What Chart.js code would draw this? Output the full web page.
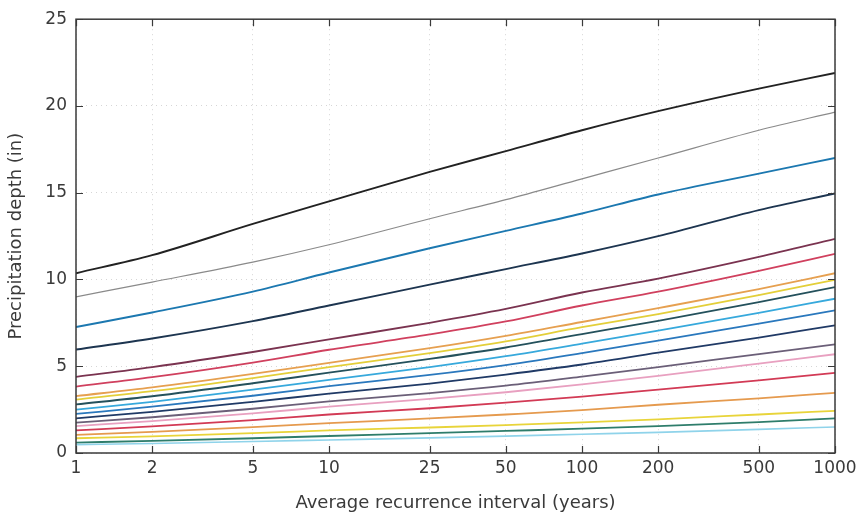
<!DOCTYPE html>
<html>
<head>
<meta charset="utf-8">
<script src="https://cdn.jsdelivr.net/npm/chart.js@4/dist/chart.umd.min.js"></script>
<style>
  html, body { margin: 0; padding: 0; background: #fff; }
  #wrap { width: 857px; height: 520px; position: relative; }
</style>
</head>
<body>
<div id="wrap"><canvas id="pfChart"></canvas></div>
<script>
// Average recurrence intervals (years) - also the x tick labels
const aris = [1, 2, 5, 10, 25, 50, 100, 200, 500, 1000];
const yTicks = [0, 5, 10, 15, 20, 25];

// Precipitation depth (in) per duration
const d5min  = [0.48, 0.55, 0.66, 0.75, 0.87, 0.97, 1.08, 1.19, 1.36, 1.50];
const d10min = [0.60, 0.70, 0.85, 0.98, 1.14, 1.27, 1.40, 1.55, 1.78, 1.99];
const d15min = [0.85, 0.96, 1.14, 1.30, 1.47, 1.61, 1.76, 1.94, 2.22, 2.43];
const d30min = [1.05, 1.22, 1.49, 1.72, 1.99, 2.22, 2.47, 2.78, 3.15, 3.47];
const d60min = [1.30, 1.53, 1.90, 2.22, 2.58, 2.90, 3.25, 3.65, 4.18, 4.62];
const d2hr   = [1.55, 1.84, 2.28, 2.67, 3.12, 3.50, 3.95, 4.45, 5.15, 5.69];
const d3hr   = [1.75, 2.06, 2.55, 2.97, 3.45, 3.88, 4.40, 4.95, 5.70, 6.26];
const d6hr   = [2.00, 2.37, 2.95, 3.42, 4.00, 4.52, 5.10, 5.78, 6.65, 7.36];
const d12hr  = [2.25, 2.67, 3.30, 3.85, 4.50, 5.07, 5.75, 6.48, 7.45, 8.22];
const d24hr  = [2.50, 2.95, 3.65, 4.22, 4.95, 5.58, 6.30, 7.05, 8.08, 8.89];
const d2day  = [2.80, 3.27, 4.02, 4.63, 5.42, 6.08, 6.85, 7.62, 8.70, 9.56];
const d3day  = [3.08, 3.56, 4.32, 4.95, 5.75, 6.43, 7.25, 8.00, 9.10, 9.98];
const d4day  = [3.28, 3.78, 4.56, 5.20, 6.04, 6.75, 7.55, 8.35, 9.45, 10.36];
const d7day  = [3.83, 4.37, 5.21, 5.95, 6.83, 7.58, 8.50, 9.30, 10.50, 11.48];
const d10day = [4.39, 4.95, 5.82, 6.55, 7.50, 8.30, 9.25, 10.05, 11.30, 12.34];
const d20day = [5.96, 6.60, 7.60, 8.50, 9.70, 10.60, 11.50, 12.50, 14.00, 14.96];
const d30day = [7.26, 8.10, 9.30, 10.40, 11.80, 12.80, 13.80, 14.90, 16.10, 17.00];
const d45day = [9.00, 9.85, 11.00, 12.00, 13.50, 14.60, 15.80, 17.00, 18.60, 19.65];
const d60day = [10.36, 11.40, 13.20, 14.50, 16.20, 17.40, 18.60, 19.70, 21.00, 21.90];

const series = [
    { label: '5-min',  data: d5min,  color: '#8fd3ea', width: 1.6 },
    { label: '10-min', data: d10min, color: '#2e7d6b', width: 1.8 },
    { label: '15-min', data: d15min, color: '#e8d43a', width: 1.8 },
    { label: '30-min', data: d30min, color: '#e59a4e', width: 1.8 },
    { label: '60-min', data: d60min, color: '#d23a55', width: 1.8 },
    { label: '2-hr',   data: d2hr,   color: '#e8a0c0', width: 1.8 },
    { label: '3-hr',   data: d3hr,   color: '#6b5f78', width: 1.8 },
    { label: '6-hr',   data: d6hr,   color: '#203a66', width: 1.8 },
    { label: '12-hr',  data: d12hr,  color: '#2a78bd', width: 1.8 },
    { label: '24-hr',  data: d24hr,  color: '#37a9dc', width: 1.8 },
    { label: '2-day',  data: d2day,  color: '#24515c', width: 1.8 },
    { label: '3-day',  data: d3day,  color: '#e3cf3a', width: 1.8 },
    { label: '4-day',  data: d4day,  color: '#e6a050', width: 1.8 },
    { label: '7-day',  data: d7day,  color: '#d0405e', width: 1.8 },
    { label: '10-day', data: d10day, color: '#7a3350', width: 1.8 },
    { label: '20-day', data: d20day, color: '#1d3550', width: 1.9 },
    { label: '30-day', data: d30day, color: '#1c78b0', width: 1.9 },
    { label: '45-day', data: d45day, color: '#8a8a8a', width: 1.2 },
    { label: '60-day', data: d60day, color: '#222222', width: 1.9 }
];

// box + inward tick marks on all four sides
const framePlugin = {
    id: 'frame',
    afterDraw(chart) {
        const { ctx, chartArea: a, scales: { x, y } } = chart;
        ctx.save();
        ctx.strokeStyle = '#3a3a3a';
        ctx.lineWidth = 1.5;
        ctx.strokeRect(a.left, a.top, a.right - a.left, a.bottom - a.top);
        ctx.lineWidth = 1.2;
        ctx.beginPath();
        aris.forEach(v => {
            const px = Math.round(x.getPixelForValue(v)) + 0.5;
            ctx.moveTo(px, a.bottom); ctx.lineTo(px, a.bottom - 7);
            ctx.moveTo(px, a.top); ctx.lineTo(px, a.top + 7);
        });
        yTicks.forEach(v => {
            const py = Math.round(y.getPixelForValue(v)) + 0.5;
            ctx.moveTo(a.left, py); ctx.lineTo(a.left + 7, py);
            ctx.moveTo(a.right, py); ctx.lineTo(a.right - 7, py);
        });
        ctx.stroke();
        ctx.restore();
    }
};

const tickFont = { family: 'DejaVu Sans', size: 17 };
const titleFont = { family: 'DejaVu Sans', size: 18 };

new Chart(document.getElementById('pfChart'), {
    type: 'line',
    data: {
        datasets: series.map(s => ({
            label: s.label,
            data: aris.map((a, i) => ({ x: a, y: s.data[i] })),
            borderColor: s.color,
            backgroundColor: s.color,
            borderWidth: s.width,
            pointRadius: 0,
            fill: false,
            cubicInterpolationMode: 'monotone'
        }))
    },
    options: {
        responsive: true,
        maintainAspectRatio: false,
        animation: false,
        layout: { padding: { top: 18, right: 22, left: 0, bottom: 0 } },
        plugins: { legend: { display: false }, tooltip: { enabled: false } },
        scales: {
            x: {
                type: 'logarithmic',
                min: 1,
                max: 1000,
                afterBuildTicks: scale => { scale.ticks = aris.map(v => ({ value: v })); },
                afterFit: scale => {
                    scale.height = 67;
                    scale.paddingLeft = 0;
                    scale.paddingRight = 0;
                },
                grid: { color: '#d6d6d6', lineWidth: 1, drawTicks: false },
                border: { display: false, dash: [1, 4] },
                ticks: {
                    autoSkip: false, maxRotation: 0, padding: 5,
                    color: '#3a3a3a', font: tickFont,
                    callback: v => String(v)
                },
                title: {
                    display: true, text: 'Average recurrence interval (years)',
                    color: '#3a3a3a', font: titleFont, padding: { top: 0, bottom: 6 }
                }
            },
            y: {
                min: 0,
                max: 25,
                afterFit: scale => { scale.width = 76; },
                grid: { color: '#d6d6d6', lineWidth: 1, drawTicks: false },
                border: { display: false, dash: [1, 4] },
                ticks: { stepSize: 5, padding: 9, color: '#3a3a3a', font: tickFont },
                title: {
                    display: true, text: 'Precipitation depth (in)',
                    color: '#3a3a3a', font: titleFont, padding: { top: 6, bottom: 0 }
                }
            }
        }
    },
    plugins: [framePlugin]
});
</script>
</body>
</html>
